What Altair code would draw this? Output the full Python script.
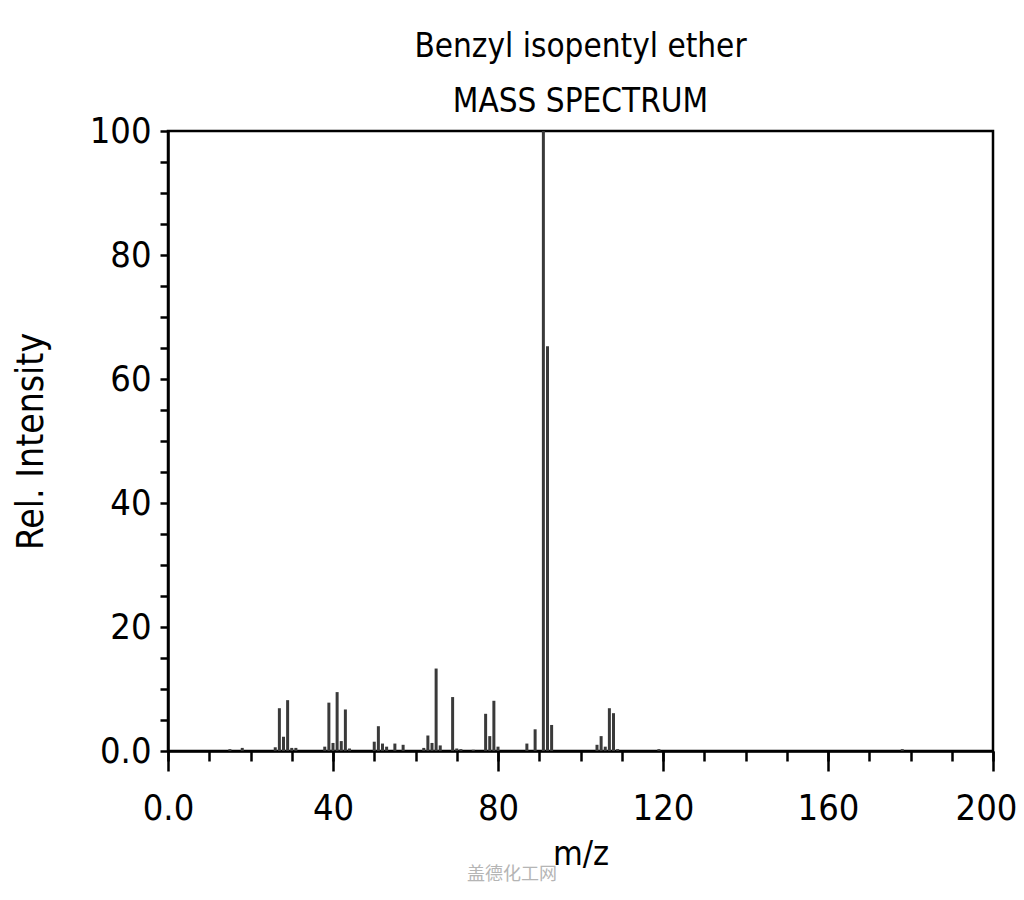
import altair as alt
import pandas as pd

mz = [15, 18, 26, 27, 28, 29, 30, 31, 38, 39, 40, 41, 42, 43, 44,
      50, 51, 52, 53, 55, 57, 62, 63, 64, 65, 66, 69, 70, 71, 74,
      77, 78, 79, 80, 87, 89, 91, 92, 93, 104, 105, 106, 107, 108, 109,
      119, 178]
intensity = [0.3, 0.5, 0.6, 6.9, 2.3, 8.2, 0.5, 0.5, 0.7, 7.8, 1.3, 9.5, 1.6, 6.7, 0.4,
             1.5, 4.0, 1.2, 0.7, 1.2, 1.0, 0.5, 2.5, 1.3, 13.3, 0.9, 8.7, 0.4, 0.3, 0.2,
             6.0, 2.4, 8.1, 0.7, 1.2, 3.5, 100.0, 65.3, 4.2, 1.0, 2.4, 0.7, 6.9, 6.1, 0.3,
             0.3, 0.3]
x_major = [0, 40, 80, 120, 160, 200]
x_minor = list(range(0, 201, 10))
y_ticks = list(range(0, 101, 5))
title_lines = ["Benzyl isopentyl ether", "MASS SPECTRUM"]
watermark = "盖德化工网"

df = pd.DataFrame({"mz": mz, "intensity": intensity})

FONT = "DejaVu Sans Condensed, Liberation Sans Narrow, DejaVu Sans"
x_scale = alt.Scale(domain=[0, 200], nice=False, zero=True)
y_scale = alt.Scale(domain=[0, 100], nice=False)

x_axis = alt.Axis(
    values=x_major, orient="bottom",
    labelExpr="datum.value == 0 ? '0.0' : datum.label",
    labelOffset={"condition": {"test": "datum.value == 200", "value": -7}, "value": 0},
    tickSize=20, tickWidth=2.5, tickColor="black",
    domainColor="black", domainWidth=2.5,
    labelFontSize=36, labelFont=FONT, labelColor="black", labelPadding=20,
    labelFlush=False,
    title="m/z", titleFontSize=34, titleFont=FONT, titleFontWeight="normal",
    titleColor="black", titlePadding=11,
    grid=False,
)
x_axis_minor = alt.Axis(
    values=x_minor, orient="bottom", labels=False, domain=False, title=None,
    tickSize=10, tickWidth=2.5, tickColor="black", grid=False,
)
y_axis = alt.Axis(
    values=y_ticks,
    labelExpr="datum.value % 20 == 0 ? (datum.value == 0 ? '0.0' : datum.label) : ''",
    tickSize=8, tickWidth=2.5, tickColor="black",
    domainColor="black", domainWidth=2.5,
    labelFontSize=36, labelFont=FONT, labelColor="black", labelPadding=9,
    labelFlush=False,
    title="Rel. Intensity", titleFontSize=37, titleFont=FONT, titleFontWeight="normal",
    titleColor="black", titlePadding=39,
    grid=False,
)

bars = alt.Chart(df).mark_rule(color="#3a3a3a", strokeWidth=3).encode(
    x=alt.X("mz:Q", scale=x_scale, axis=x_axis),
    y=alt.Y("intensity:Q", scale=y_scale, axis=y_axis),
    y2=alt.datum(0),
)

minor = alt.Chart(df).mark_point(opacity=0).encode(
    x=alt.X("mz:Q", scale=x_scale, axis=x_axis_minor),
    y=alt.Y("intensity:Q", scale=y_scale, axis=None),
)

wm = alt.Chart(pd.DataFrame({"t": [watermark]})).mark_text(
    font="Noto Sans CJK SC", fontSize=18, color="#b5b5b5", align="center", baseline="middle"
).encode(text="t:N", x=alt.value(344), y=alt.value(744))

chart = alt.layer(bars, minor, wm).resolve_axis(x="independent", y="independent").properties(
    width=825, height=620,
    autosize=alt.AutoSizeParams(type="none"),
    padding={"left": 160, "top": 123, "right": 23, "bottom": 140},
    title=alt.TitleParams(
        text=title_lines, fontSize=33, font=FONT, fontWeight="normal", color="black",
        lineHeight=55, anchor="middle", offset=-6,
    ),
).configure_view(stroke="black", strokeWidth=2.5)

chart.save("out.html", embed_options={"renderer": "svg", "actions": False})
